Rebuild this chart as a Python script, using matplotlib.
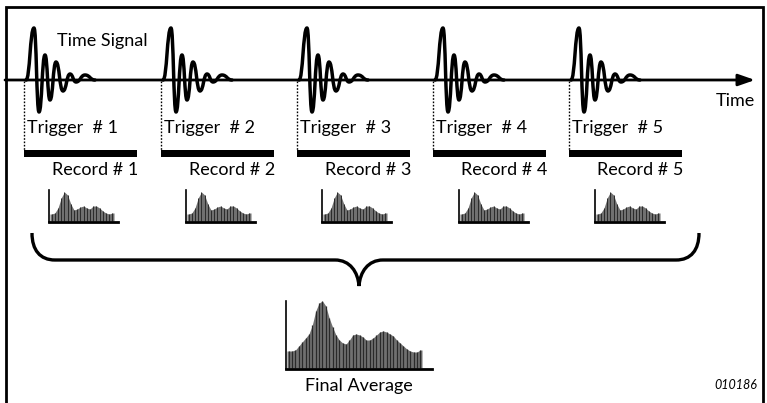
import matplotlib
matplotlib.use("Agg")
import matplotlib.pyplot as plt
from matplotlib.path import Path
from matplotlib.patches import PathPatch

# ---- data ----
trigger_labels = ["Trigger  # 1", "Trigger  # 2", "Trigger  # 3", "Trigger  # 4", "Trigger  # 5"]
record_labels = ["Record # 1", "Record # 2", "Record # 3", "Record # 4", "Record # 5"]
trigger_x = [24, 161, 297, 433, 569]
# waveform extrema: offset from trigger (px) and level (px, axis at 80)
wave_dx = [2, 10, 15, 21, 26, 32, 39, 46, 52, 61, 71]
wave_y = [80, 28, 112, 55, 100, 62, 91, 74, 82, 75, 80]
# small spectra (per record), bar heights in px
small_spec = [7, 8, 13, 23, 29, 26, 17, 11, 12, 14, 15, 13, 12, 15, 15, 13, 10, 8, 7, 8]
small_axis_x = [49, 186, 322, 459, 595]
# final average spectrum bar heights in px
final_spec = [17, 17, 18, 22, 26, 30, 34, 43, 57, 65, 67, 62, 50, 41, 33, 28, 25, 24, 28, 33,
              34, 33, 31, 28, 28, 30, 33, 36, 37, 36, 34, 32, 28, 25, 22, 19, 17, 16, 16, 18]

fig = plt.figure(figsize=(7.67, 4.03), dpi=100)
ax = fig.add_axes([0, 0, 1, 1])
ax.set_xlim(0, 767)
ax.set_ylim(403, 0)
ax.axis("off")

FONT = "Lato"
fs = 13

FILL = "#707070"
STRIPE = "#2a2a2a"


def spectrum(x0, base, width, values, stripe_lw):
    w = width / len(values)
    xs = [x0 + 1 + w * (i + 0.5) for i in range(len(values))]
    xe = [x0 + 1] + xs + [x0 + 1 + width]
    ye = [base - values[0]] + [base - v for v in values] + [base - values[-1]]
    ax.fill_between(xe, base, ye, color=FILL, lw=0)
    ax.vlines(xs, base, [base - v for v in values], color=STRIPE, lw=stripe_lw)


# frame
ax.plot([5.5, 5.5, 762.5, 762.5], [403, 6.5, 6.5, 403], color="black", lw=2, solid_joinstyle="miter")

# time axis with arrow
ax.annotate("", xy=(755, 80), xytext=(5, 80),
            arrowprops=dict(arrowstyle="-|>,head_length=1.0,head_width=0.35", lw=2, color="black",
                            shrinkA=0, shrinkB=0))
ax.text(735, 101, "Time", fontsize=fs, family=FONT, ha="center", va="center")
ax.text(57, 41, "Time Signal", fontsize=fs, family=FONT, ha="left", va="center")

for k, tx in enumerate(trigger_x):
    xs = [tx + d for d in wave_dx]
    verts = [(xs[0], wave_y[0])]
    codes = [Path.MOVETO]
    for i in range(1, len(xs)):
        x0, y0, x1, y1 = xs[i - 1], wave_y[i - 1], xs[i], wave_y[i]
        dx = x1 - x0
        verts += [(x0 + 0.5 * dx, y0), (x1 - 0.5 * dx, y1), (x1, y1)]
        codes += [Path.CURVE4] * 3
    ax.add_patch(PathPatch(Path(verts, codes), fill=False, lw=2.5, edgecolor="black",
                           capstyle="round", joinstyle="round"))
    ax.plot([tx, tx], [81, 151], color="black", lw=1, linestyle=(0, (1.2, 1.2)))
    ax.text(tx + 3, 128, trigger_labels[k], fontsize=fs, family=FONT, ha="left", va="center")
    ax.fill_between([tx, tx + 113], 150, 157, color="black", lw=0)
    ax.text(tx + 71, 170, record_labels[k], fontsize=fs, family=FONT, ha="center", va="center")
    sx = small_axis_x[k]
    spectrum(sx, 221, 64, small_spec, 0.7)
    ax.plot([sx, sx], [190, 222], color="black", lw=1.2)
    ax.plot([sx, sx + 69], [221.5, 221.5], color="black", lw=2)

# brace
bv = [(32, 233), (32, 250), (40, 260), (55, 260), (335, 260), (350, 260), (358, 272), (359, 286),
      (360, 272), (368, 260), (383, 260), (676, 260), (691, 260), (699, 250), (699, 233)]
bc = [Path.MOVETO, Path.CURVE4, Path.CURVE4, Path.CURVE4, Path.LINETO, Path.CURVE4, Path.CURVE4,
      Path.CURVE4, Path.CURVE4, Path.CURVE4, Path.CURVE4, Path.LINETO, Path.CURVE4, Path.CURVE4,
      Path.CURVE4]
ax.add_patch(PathPatch(Path(bv, bc), fill=False, lw=2.4, edgecolor="black", capstyle="butt"))

# final average spectrum
fx0 = 286
spectrum(fx0, 368, 135, final_spec, 0.9)
ax.plot([fx0, fx0], [301, 369], color="black", lw=1.2)
ax.plot([fx0, 432], [368.5, 368.5], color="black", lw=2)
ax.text(359, 386, "Final Average", fontsize=fs, family=FONT, ha="center", va="center")

ax.text(757, 385, "010186", fontsize=9, family=FONT, style="italic", ha="right", va="center")

fig.savefig("out.png", dpi=100)
